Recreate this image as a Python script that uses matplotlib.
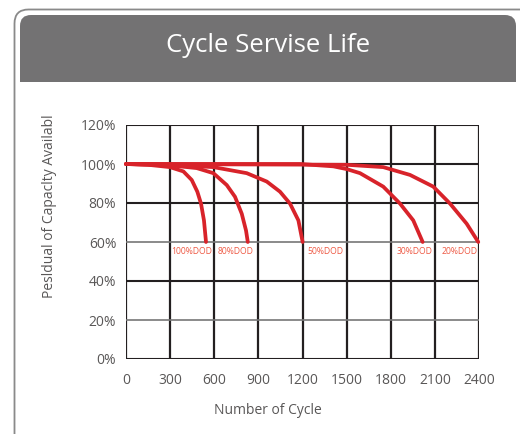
import matplotlib
matplotlib.use("Agg")
import matplotlib.pyplot as plt
from matplotlib.patches import FancyBboxPatch, Rectangle

plt.rcParams['font.family'] = ['Open Sans', 'DejaVu Sans']

# ---- data ----
dod_labels = ["100%DOD", "80%DOD", "50%DOD", "30%DOD", "20%DOD"]
label_x = [449, 748, 1354, 1959, 2265]

x_100 = [0, 150, 299, 390, 447, 485, 510, 530, 544]
y_100 = [100, 99.6, 98.4, 96.2, 91.8, 85.8, 79.7, 71.1, 60]
x_80 = [0, 300, 481, 594, 685, 741, 787, 816, 828]
y_80 = [100, 99.3, 97.9, 95.3, 89.2, 83.2, 74.5, 65.9, 60]
x_50 = [0, 300, 594, 821, 957, 1047, 1115, 1172, 1201]
y_50 = [100, 99.6, 98.4, 95.3, 91.0, 85.8, 79.7, 71.1, 60]
x_30 = [0, 1183, 1410, 1500, 1591, 1749, 1863, 1953, 2017]
y_30 = [100, 100, 98.8, 97.4, 95.3, 88.4, 79.7, 71.1, 60]
x_20 = [0, 1500, 1749, 1931, 2089, 2203, 2316, 2395]
y_20 = [100, 99.6, 98.4, 94.4, 88.4, 79.7, 69.4, 60]

x_ticks = [0, 300, 600, 900, 1200, 1500, 1800, 2100, 2400]
y_ticks = [0, 20, 40, 60, 80, 100, 120]

RED = "#d8232a"
GRID = "#231f20"
TXT = "#595757"

W, H = 520, 434
fig = plt.figure(figsize=(W / 100, H / 100), dpi=100)

# background frame in pixel coordinates
bg = fig.add_axes([0, 0, 1, 1])
bg.set_xlim(0, W)
bg.set_ylim(H, 0)
bg.axis("off")
bg.add_patch(FancyBboxPatch((14.5, 9.5), 520, 440, boxstyle="round,pad=0,rounding_size=14",
                            fc="white", ec="#8a8a8a", lw=1.3))
bg.add_patch(FancyBboxPatch((20, 15), 496, 67, boxstyle="round,pad=0,rounding_size=11",
                            fc="#737273", ec="none"))
bg.add_patch(Rectangle((20, 45), 496, 37, fc="#737273", ec="none"))
bg.text(268, 45, "Cycle Servise Life", color="white", fontsize=18.5,
        ha="center", va="center")

# axis titles, placed where the reference has them
bg.text(268, 411, "Number of Cycle", fontsize=10, color=TXT, ha="center", va="center")
bg.text(50, 206, "Pesldual of Capaclty Availabl", fontsize=10, color=TXT,
        rotation=90, ha="center", va="center")

# chart
ax = fig.add_axes([126 / W, 1 - 359 / H, (479 - 126) / W, (359 - 125) / H])
ax.set_xlim(0, 2400)
ax.set_ylim(0, 120)
ax.set_facecolor("none")

for xv in x_ticks:
    ax.axvline(xv, color=GRID, lw=1.6, zorder=1)
for yv in y_ticks:
    if yv in (20, 60):
        ax.axhline(yv, color="#777", lw=1.2, zorder=1)
    else:
        ax.axhline(yv, color=GRID, lw=1.5, zorder=1)

for sp in ax.spines.values():
    sp.set_visible(False)

curves = [(x_100, y_100), (x_80, y_80), (x_50, y_50), (x_30, y_30), (x_20, y_20)]
for xs, ys in curves:
    ax.plot(xs, ys, color=RED, lw=2.7, solid_capstyle="round",
            solid_joinstyle="round", zorder=3, clip_on=False)

for lab, lx in zip(dod_labels, label_x):
    ax.text(lx, 55, lab, color="#ee5a45", fontsize=6.2, ha="center", va="center", zorder=4)

ax.set_xticks(x_ticks)
ax.set_yticks(y_ticks)
ax.set_xticklabels([str(v) for v in x_ticks])
ax.set_yticklabels([f"{v}%" for v in y_ticks])
ax.tick_params(length=0, labelsize=10, colors=TXT, pad=7)
ax.tick_params(axis="x", pad=10)

fig.savefig("out.png", dpi=100)
